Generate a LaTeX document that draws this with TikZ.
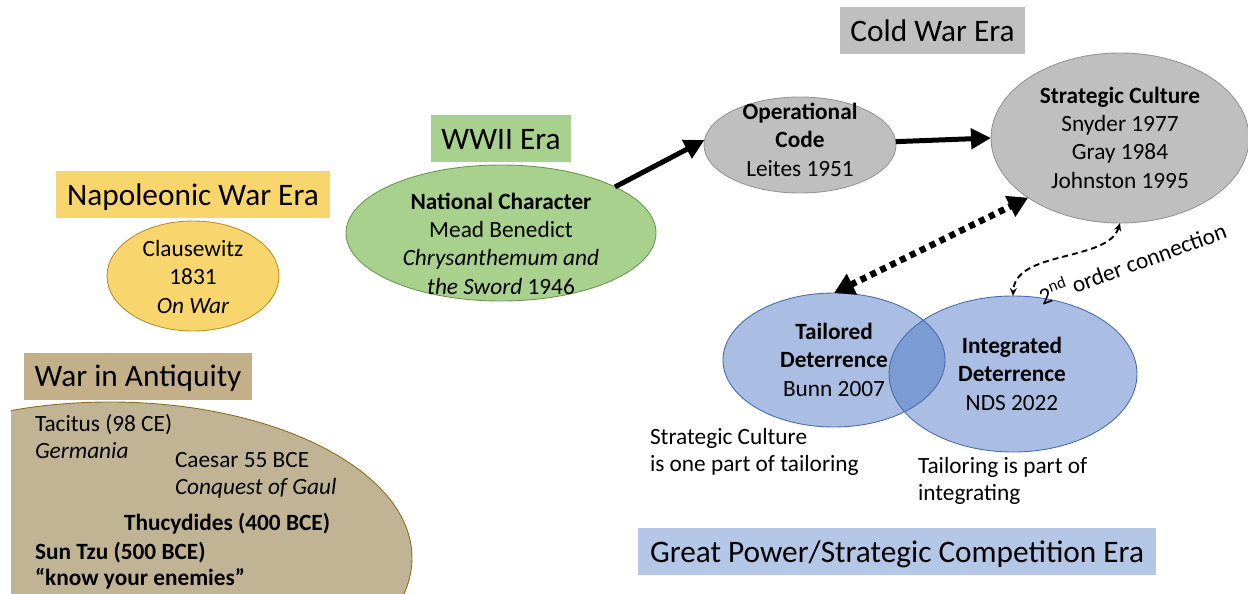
\documentclass[tikz,border=0pt]{standalone}
\usepackage{fontspec}
\setmainfont{Carlito}
\usetikzlibrary{arrows.meta,shapes.geometric}
\definecolor{napy}{HTML}{F9D56E}
\definecolor{napyd}{HTML}{B8922A}
\definecolor{tanlab}{HTML}{C4B088}
\definecolor{tanfill}{HTML}{C1B494}
\definecolor{tand}{HTML}{8C6E1E}
\definecolor{grn}{HTML}{A9D18E}
\definecolor{grnd}{HTML}{6E9650}
\definecolor{gry}{HTML}{BFBFBF}
\definecolor{gryd}{HTML}{959595}
\definecolor{bluelab}{HTML}{B4C7E7}
\definecolor{vlight}{HTML}{AABDE3}
\definecolor{vdark}{HTML}{7B9BD3}
\definecolor{vline}{HTML}{4A6DB0}
\begin{document}
\begin{tikzpicture}[x=1pt,y=-1pt,
  every node/.style={inner sep=0pt, outer sep=0pt},
  body/.style={font=\fontsize{23.3}{28.3}\selectfont, align=center, anchor=base},
  bodyl/.style={font=\fontsize{23.3}{27}\selectfont, align=left, anchor=base west},
  era/.style={font=\fontsize{31.3}{36}\selectfont, text height=24pt, text depth=3pt, minimum height=47pt},
  oval/.style={ellipse, draw, line width=0.9pt, inner sep=0pt},
  bigarrow/.style={line width=5pt, -{Triangle[length=20pt,width=20pt]}},
  dotarrow/.style={line width=6.5pt, dash pattern=on 6pt off 5pt,
     {Triangle[length=20pt,width=22pt]}-{Triangle[length=20pt,width=22pt]}},
  dasharrow/.style={line width=1.9pt, dash pattern=on 6pt off 4pt,
     {Stealth[length=8pt,width=7pt]}-{Stealth[length=8pt,width=7pt]}}
]
\useasboundingbox (0,0) rectangle (1248,594);

% ---- War in Antiquity ----
\begin{scope}
  \clip (11,0) rectangle (1248,594);
  \node[oval, draw=tand, fill=tanfill, minimum width=604pt, minimum height=312pt] (anti) at (110,558) {};
\end{scope}
\node[era, fill=tanlab, minimum width=228pt] (antit) at (138,376) {War in Antiquity};
\node[bodyl] (tac) at (35,458) {Tacitus (98 CE)\\\itshape Germania};
\node[bodyl] (cae) at (175,494) {Caesar 55 BCE\\\itshape Conquest of Gaul};
\node[bodyl, font=\fontsize{23.3}{27}\selectfont\bfseries] (thu) at (124,530) {Thucydides (400 BCE)};
\node[bodyl, font=\fontsize{23.3}{25.5}\selectfont\bfseries] (sun) at (35,585) {Sun Tzu (500 BCE)\\“know your enemies”};

% ---- Napoleonic ----
\node[era, fill=napy, minimum width=274pt] (napt) at (193,194.5) {Napoleonic War Era};
\node[oval, draw=napyd, fill=napy, minimum width=172pt, minimum height=110pt] (clau) at (193,276) {};
\node[body] (claut) at (193,313) {Clausewitz\\1831\\\itshape On War};

% ---- WWII ----
\node[era, fill=grn, minimum width=140pt] (wwt) at (501,138.5) {WWII Era};
\node[oval, draw=grnd, fill=grn, minimum width=310pt, minimum height=136pt] (nc) at (501,233) {};
\node[body] (nct) at (501,294) {\bfseries National Character\\Mead Benedict\\\itshape Chrysanthemum and\\\itshape the Sword\/\upshape\ 1946};

% ---- Cold War ----
\node[era, fill=gry, minimum width=185pt] (cwt) at (932.5,31) {Cold War Era};
\node[oval, draw=gryd, fill=gry, minimum width=192pt, minimum height=96pt] (oc) at (800,145) {};
\node[body] (oct) at (800,176) {\bfseries Operational\\\bfseries Code\\Leites 1951};
\node[oval, draw=gryd, fill=gry, minimum width=258pt, minimum height=170pt] (sc) at (1120,138) {};
\node[body] (sct) at (1120,188) {\bfseries Strategic Culture\\Snyder 1977\\Gray 1984\\Johnston 1995};

% ---- Great power ----
\node[oval, draw=none, fill=vlight, minimum width=222pt, minimum height=134pt] (tl) at (834,360) {};
\node[oval, draw=none, fill=vlight, minimum width=248pt, minimum height=156pt] (itg) at (1013,374) {};
\begin{scope}
  \clip (834,360) ellipse [x radius=111pt, y radius=67pt];
  \fill[vdark] (1013,374) ellipse [x radius=124pt, y radius=78pt];
\end{scope}
\draw[vline, line width=0.9pt] (834,360) ellipse [x radius=111pt, y radius=67pt];
\draw[vline, line width=0.9pt] (1013,374) ellipse [x radius=124pt, y radius=78pt];
\node[body] (tlt) at (834,396) {\bfseries Tailored\\\bfseries Deterrence\\Bunn 2007};
\node[body] (itgt) at (1012,410) {\bfseries Integrated\\\bfseries Deterrence\\NDS 2022};
\node[bodyl] (note1) at (650,471) {Strategic Culture\\is one part of tailoring};
\node[bodyl] (note2) at (918,500) {Tailoring is part of\\integrating};
\node[era, fill=bluelab, minimum width=518pt] (gpt) at (897,551.5) {Great Power/Strategic Competition Era};

% ---- connectors ----
\draw[bigarrow] (nc.22) -- (oc.177);
\draw[bigarrow] (oc.2) -- (sc.west);
\draw[dotarrow] (tl.north) -- (sc.213);
\draw[dasharrow] (sc.south) .. controls (1108,262) and (1015,250) .. (itg.north);
\node[font=\fontsize{23.3}{26}\selectfont, rotate=20] (lab) at (1132,262) {2\textsuperscript{nd} order connection};
\end{tikzpicture}
\end{document}
